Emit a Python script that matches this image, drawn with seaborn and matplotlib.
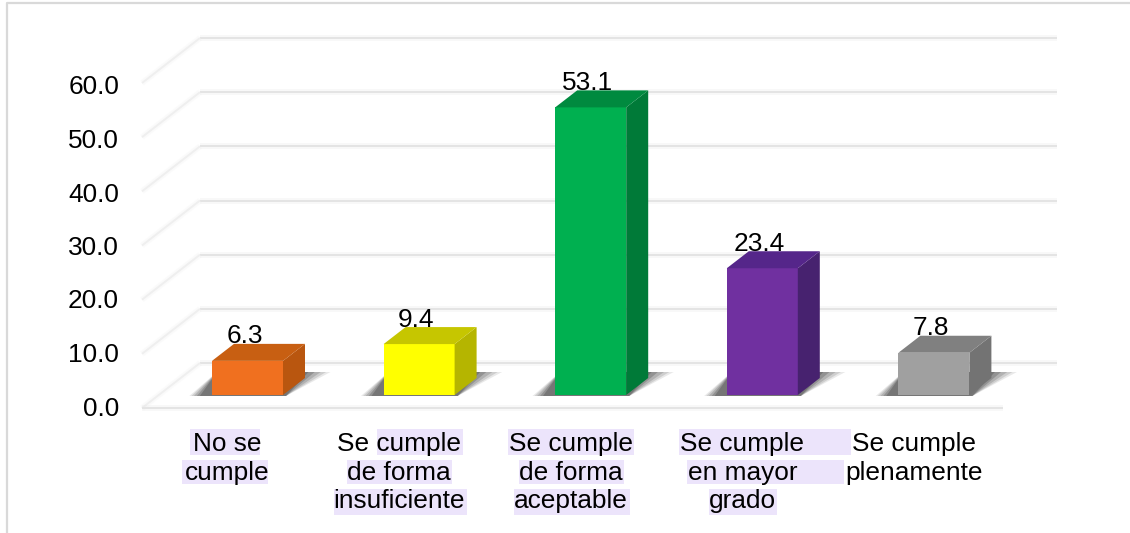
import numpy as np
import pandas as pd
import matplotlib
matplotlib.use("Agg")
import matplotlib.pyplot as plt
import seaborn as sns
from matplotlib.lines import Line2D
from matplotlib.patches import Polygon, Rectangle
from matplotlib.transforms import Affine2D, IdentityTransform

# ---------- data ----------
categories = ["No se\ncumple", "Se cumple\nde forma\ninsuficiente", "Se cumple\nde forma\naceptable",
              "Se cumple\nen mayor\ngrado", "Se cumple\nplenamente"]
values = [6.3, 9.4, 53.1, 23.4, 7.8]
y_ticks = [0, 10, 20, 30, 40, 50, 60]
front_colors = ["#F0701F", "#FFFF00", "#00B050", "#7030A0", "#A0A0A0"]
side_colors = ["#B9560F", "#B5B500", "#007A38", "#47226F", "#737373"]
top_colors = ["#C85F12", "#C6C600", "#008A3F", "#55268A", "#808080"]

# ---------- layout (pixels, measured from the top-left corner) ----------
W, H = 1130, 533
FLOOR_L, FLOOR_R, FLOOR_Y, TOP_Y = 142, 1003, 408, 83
WALL_R = 1057
WALL_DX, WALL_DY = 58, 45
BAR_LIFT = 13
BAR_DX, BAR_DY = 22, 17
CENTER0, STEP = 247.5, 171.6
FS = 18.9
highlights = [(190, 429, 260, 455), (182, 460, 268, 484),
              (377, 429, 463, 455), (347, 460, 452, 484), (334, 489, 467, 515),
              (508, 429, 634, 455), (519, 460, 624, 484), (514, 489, 630, 515),
              (679, 429, 851, 455), (687, 460, 844, 484), (709, 489, 777, 515)]

sns.set_theme(style="white")
plt.rcParams["font.family"] = ["Liberation Sans", "DejaVu Sans"]

fig = plt.figure(figsize=(W / 100, H / 100), dpi=100, facecolor="white")
ax = fig.add_axes([FLOOR_L / W, (H - FLOOR_Y) / H, (FLOOR_R - FLOOR_L) / W, (FLOOR_Y - TOP_Y) / H])
ax.patch.set_visible(False)

df = pd.DataFrame({"cat": categories, "value": values})
sns.barplot(data=df, x="cat", y="value", hue="cat", palette=front_colors, saturation=1,
            width=71 / STEP, legend=False, dodge=False, ax=ax)

ax.set_xlim((FLOOR_L - CENTER0) / STEP, (FLOOR_R - CENTER0) / STEP)
ax.set_ylim(y_ticks[0], y_ticks[-1])
ax.set_autoscale_on(False)
ax.set_xlabel("")
ax.set_ylabel("")
sns.despine(ax=ax, left=True, bottom=True)
ax.set_yticks(y_ticks, [f"{t:.1f}" for t in y_ticks])
ax.tick_params(axis="y", length=0, pad=16.5, labelsize=FS, labelcolor="black")
ax.tick_params(axis="x", length=0, pad=17, labelsize=FS, labelcolor="black")
for t, lab in zip(y_ticks, ax.get_yticklabels()):
    # the reference's axis labels sit slightly tighter than its gridlines
    lab.set_transform(lab.get_transform() + Affine2D().translate(0, 2 - 4 * t / y_ticks[-1]))
for lab in ax.get_xticklabels():
    lab.set_transform(lab.get_transform() + Affine2D().translate(-20, 0))
    lab.set_linespacing(1.26)

ident = IdentityTransform()


def fig_line(xs, ys, **kw):
    fig.add_artist(Line2D(xs, ys, transform=ident, solid_capstyle="butt", **kw))


def soft_line(xs, ys, color="#E4E4E4", lw=1.4):
    fig_line(xs, ys, color=color, lw=lw * 3, alpha=0.25, zorder=-2)
    fig_line(xs, ys, color=color, lw=lw, zorder=-2)


# outer frame
fig_line([7, 7, W], [0, H - 3, H - 3], color="#D9D9D9", lw=1.6, zorder=-3)

# highlighted label backgrounds
for x0, y0, x1, y1 in highlights:
    fig.add_artist(Rectangle((x0, H - y1), x1 - x0, y1 - y0, transform=ident,
                             facecolor="#ECE4FB", edgecolor="none", zorder=-1))

# walls: gridlines on the back wall and the slanted lines on the side wall
for t in y_ticks:
    _, yd = ax.transData.transform((0, t))
    soft_line([FLOOR_L + WALL_DX, WALL_R], [yd + WALL_DY, yd + WALL_DY])
    soft_line([FLOOR_L, FLOOR_L + WALL_DX], [yd, yd + WALL_DY], color="#EFEFEF")
_, y0d = ax.transData.transform((0, 0))
soft_line([FLOOR_L, FLOOR_R], [y0d, y0d])

# 3-D faces, shadows and value labels built from the bars seaborn drew
lift = Affine2D().translate(0, BAR_LIFT)
bars = list(ax.patches)
for patch, val, sc, tc in zip(bars, values, side_colors, top_colors):
    bb = patch.get_bbox()
    (x0, yb), (x1, yt) = ax.transData.transform([(bb.x0, bb.y0), (bb.x1, bb.y1)])
    yb += BAR_LIFT
    yt += BAR_LIFT
    patch.set_transform(patch.get_data_transform() + lift)
    patch.set_clip_on(False)
    patch.set_linewidth(0)
    patch.set_zorder(3)
    # shadow on the floor: stacked translucent layers fade away from the bar
    for reach, alpha in [(1.08, 0.10), (0.98, 0.14), (0.86, 0.18), (0.72, 0.24), (0.58, 0.28)]:
        shadow = [(x0 - 21 * reach, yb - 1), (x1 + 3, yb - 1),
                  (x1 + 44 * reach, yb + 23), (x0 + 5, yb + 23)]
        ax.add_patch(Polygon(shadow, closed=True, transform=ident, facecolor="#303030",
                             edgecolor="none", alpha=alpha, zorder=1, clip_on=False))
    ax.add_patch(Polygon([(x1, yb), (x1 + BAR_DX, yb + BAR_DY), (x1 + BAR_DX, yt + BAR_DY), (x1, yt)],
                         closed=True, transform=ident, facecolor=sc, edgecolor="none",
                         zorder=3, clip_on=False))
    ax.add_patch(Polygon([(x0, yt), (x0 + BAR_DX, yt + BAR_DY), (x1 + BAR_DX, yt + BAR_DY), (x1, yt)],
                         closed=True, transform=ident, facecolor=tc, edgecolor="none",
                         zorder=3, clip_on=False))
    ax.text((x0 + x1) / 2 - 3, yt + 24.5, f"{val:.1f}", transform=ident, ha="center", va="center",
            fontsize=FS, color="black", zorder=2, clip_on=False)

fig.savefig("out.png", dpi=100, facecolor="white")
